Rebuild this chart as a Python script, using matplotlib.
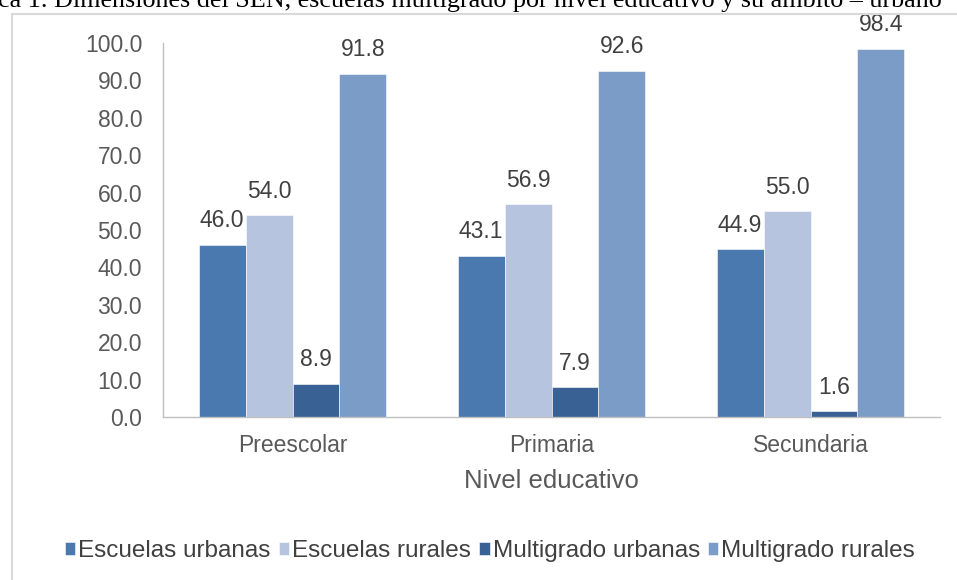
import matplotlib.pyplot as plt
import numpy as np
from matplotlib.patches import Rectangle

niveles = ['Preescolar', 'Primaria', 'Secundaria']
series = ['Escuelas urbanas', 'Escuelas rurales', 'Multigrado urbanas', 'Multigrado rurales']
escuelas_urbanas = [46.0, 43.1, 44.9]
escuelas_rurales = [54.0, 56.9, 55.0]
multigrado_urbanas = [8.9, 7.9, 1.6]
multigrado_rurales = [91.8, 92.6, 98.4]
colores = ['#4A79B0', '#B6C4DF', '#3A6193', '#7C9CC8']

titulo = 'ca 1. Dimensiones del SEN, escuelas multigrado por nivel educativo y su ámbito – urbano'

plt.rcParams['font.family'] = ['Liberation Sans', 'DejaVu Sans']

fig = plt.figure(figsize=(9.57, 5.8), dpi=100)
ax = fig.add_axes([163 / 957, 1 - 417 / 580, (940 - 163) / 957, (417 - 43) / 580])

# marco gris de la figura
fig.patches.append(Rectangle((12 / 957, -0.1), 1.2, 1 - 14 / 580 + 0.1, transform=fig.transFigure,
                             fill=False, edgecolor='#D9D9D9', linewidth=1.5))

fig.text(-2 / 957, 1 - 7 / 580, titulo, family='Liberation Serif', fontsize=18.8,
         va='baseline', ha='left', color='black')

x = np.arange(len(niveles))
ancho = 0.181
valores = [escuelas_urbanas, escuelas_rurales, multigrado_urbanas, multigrado_rurales]
for i, (nombre, vals) in enumerate(zip(series, valores)):
    barras = ax.bar(x + (i - 1.5) * ancho, vals, ancho, color=colores[i], label=nombre,
                    edgecolor='white', linewidth=0.4)
    ax.bar_label(barras, labels=[f'{v:.1f}' for v in vals], padding=9,
                 fontsize=16.5, color='#404040')

ax.set_xlim(-0.5, 2.5)
ax.set_ylim(0, 100)
ax.set_yticks(np.arange(0, 101, 10))
ax.set_yticklabels([f'{v:.1f}' for v in np.arange(0, 101, 10)])
ax.set_xticks(x)
ax.set_xticklabels(niveles)
ax.tick_params(axis='both', length=0, labelsize=16.5, labelcolor='#595959')
ax.tick_params(axis='y', pad=15)
ax.tick_params(axis='x', pad=12)
ax.set_xlabel('Nivel educativo', fontsize=18.5, color='#595959', labelpad=9)

for lado in ['top', 'right']:
    ax.spines[lado].set_visible(False)
for lado in ['left', 'bottom']:
    ax.spines[lado].set_color('#BFBFBF')
    ax.spines[lado].set_linewidth(1)

leg = fig.legend(loc='center', bbox_to_anchor=(490 / 957, 1 - 551 / 580), ncol=4, frameon=False,
                 fontsize=17.5, handlelength=0.42, handleheight=0.42, handletextpad=0.12,
                 columnspacing=0.35, borderaxespad=0)
for t in leg.get_texts():
    t.set_color('#404040')

fig.savefig('out.png', dpi=100)
